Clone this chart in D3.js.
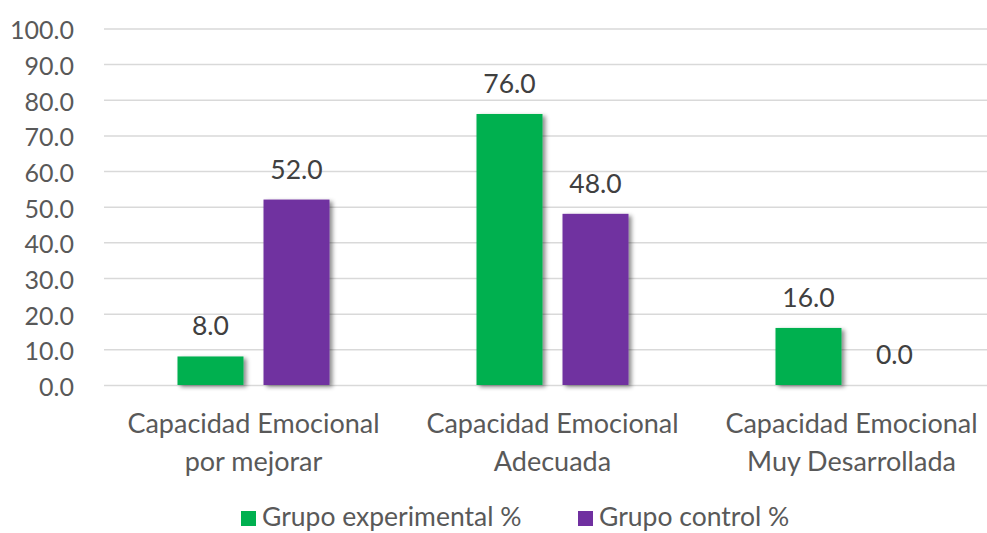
<!DOCTYPE html>
<html>
<head>
<meta charset="utf-8">
<script src="https://cdn.jsdelivr.net/npm/d3@7"></script>
<style>
  html, body { margin: 0; padding: 0; background: #fff; }
  svg { display: block; font-family: Lato, "Open Sans", sans-serif; }
</style>
</head>
<body>
<svg id="chart" width="987" height="533"></svg>
<script>
// Category labels (two lines each)
const categories = [
  ["Capacidad Emocional", "por mejorar"],
  ["Capacidad Emocional", "Adecuada"],
  ["Capacidad Emocional", "Muy Desarrollada"]
];
const seriesNames = ["Grupo experimental %", "Grupo control %"];
const experimental = [8.0, 76.0, 16.0];
const control = [52.0, 48.0, 0.0];
const yTicks = [0, 10, 20, 30, 40, 50, 60, 70, 80, 90, 100];
const colors = ["#00b050", "#7030a0"];

const svg = d3.select("#chart");
const textColor = "#595959";
const margin = { left: 104, right: -14, top: 28.4, bottom: 148 };
const W = 987, H = 533;

const x0 = d3.scaleBand()
  .domain(d3.range(categories.length))
  .range([margin.left, W - margin.right])
  .paddingInner(0.4916)
  .paddingOuter(0.2458);

const x1 = d3.scaleBand()
  .domain(d3.range(seriesNames.length))
  .range([0, x0.bandwidth()])
  .paddingInner(0.2326);

const y = d3.scaleLinear()
  .domain([0, 100])
  .range([H - margin.bottom, margin.top]);

// drop shadow for bars
const defs = svg.append("defs");
const f = defs.append("filter").attr("id", "shadow")
  .attr("x", "-20%").attr("y", "-20%").attr("width", "150%").attr("height", "150%");
f.append("feDropShadow")
  .attr("dx", 3).attr("dy", 2).attr("stdDeviation", 2.2)
  .attr("flood-color", "#000").attr("flood-opacity", 0.45);

// gridlines and value axis
const yAxis = d3.axisLeft(y)
  .tickValues(yTicks)
  .tickSize(-(W - margin.left))
  .tickFormat(d => d.toFixed(1))
  .tickPadding(30);

const gy = svg.append("g")
  .attr("transform", `translate(${margin.left},0)`)
  .call(yAxis);
gy.select(".domain").remove();
gy.selectAll(".tick line").attr("stroke", "#d9d9d9").attr("stroke-width", 1.5);
gy.selectAll(".tick text")
  .attr("fill", textColor)
  .attr("font-size", 25)
  .attr("dy", "0.42em")
  .attr("font-family", "Lato, 'Open Sans', sans-serif");

// values by series
const series = [experimental, control];

const groups = svg.append("g").selectAll("g")
  .data(categories.map((c, i) => ({ i, values: series.map(s => s[i]) })))
  .join("g")
  .attr("transform", d => `translate(${x0(d.i)},0)`);

groups.selectAll("rect")
  .data(d => d.values.map((v, k) => ({ v, k })).filter(e => e.v > 0))
  .join("rect")
  .attr("x", d => x1(d.k))
  .attr("width", x1.bandwidth())
  .attr("y", d => y(d.v))
  .attr("height", d => y(0) - y(d.v))
  .attr("fill", d => colors[d.k])
  .attr("filter", "url(#shadow)");

groups.selectAll("text.val")
  .data(d => d.values.map((v, k) => ({ v, k })))
  .join("text")
  .attr("class", "val")
  .attr("x", d => x1(d.k) + x1.bandwidth() / 2)
  .attr("y", d => y(d.v) - 21)
  .attr("text-anchor", "middle")
  .attr("fill", "#404040")
  .attr("font-size", 26.5)
  .text(d => d.v.toFixed(1));

// category labels
const xl = svg.append("g").selectAll("text")
  .data(categories)
  .join("text")
  .attr("x", (d, i) => x0(i) + x0.bandwidth() / 2)
  .attr("y", 433)
  .attr("text-anchor", "middle")
  .attr("fill", textColor)
  .attr("font-size", 27);
xl.selectAll("tspan")
  .data(d => d)
  .join("tspan")
  .attr("x", function () { return d3.select(this.parentNode).attr("x"); })
  .attr("dy", (d, j) => j === 0 ? 0 : 38)
  .text(d => d);

// legend
const legend = svg.append("g");
const legendItems = [
  { name: seriesNames[0], color: colors[0], x: 241 },
  { name: seriesNames[1], color: colors[1], x: 578 }
];
legendItems.forEach(it => {
  legend.append("rect")
    .attr("x", it.x).attr("y", 511).attr("width", 15).attr("height", 15)
    .attr("fill", it.color);
  legend.append("text")
    .attr("x", it.x + 21).attr("y", 526)
    .attr("fill", textColor)
    .attr("font-size", 26.5)
    .text(it.name);
});
</script>
</body>
</html>
